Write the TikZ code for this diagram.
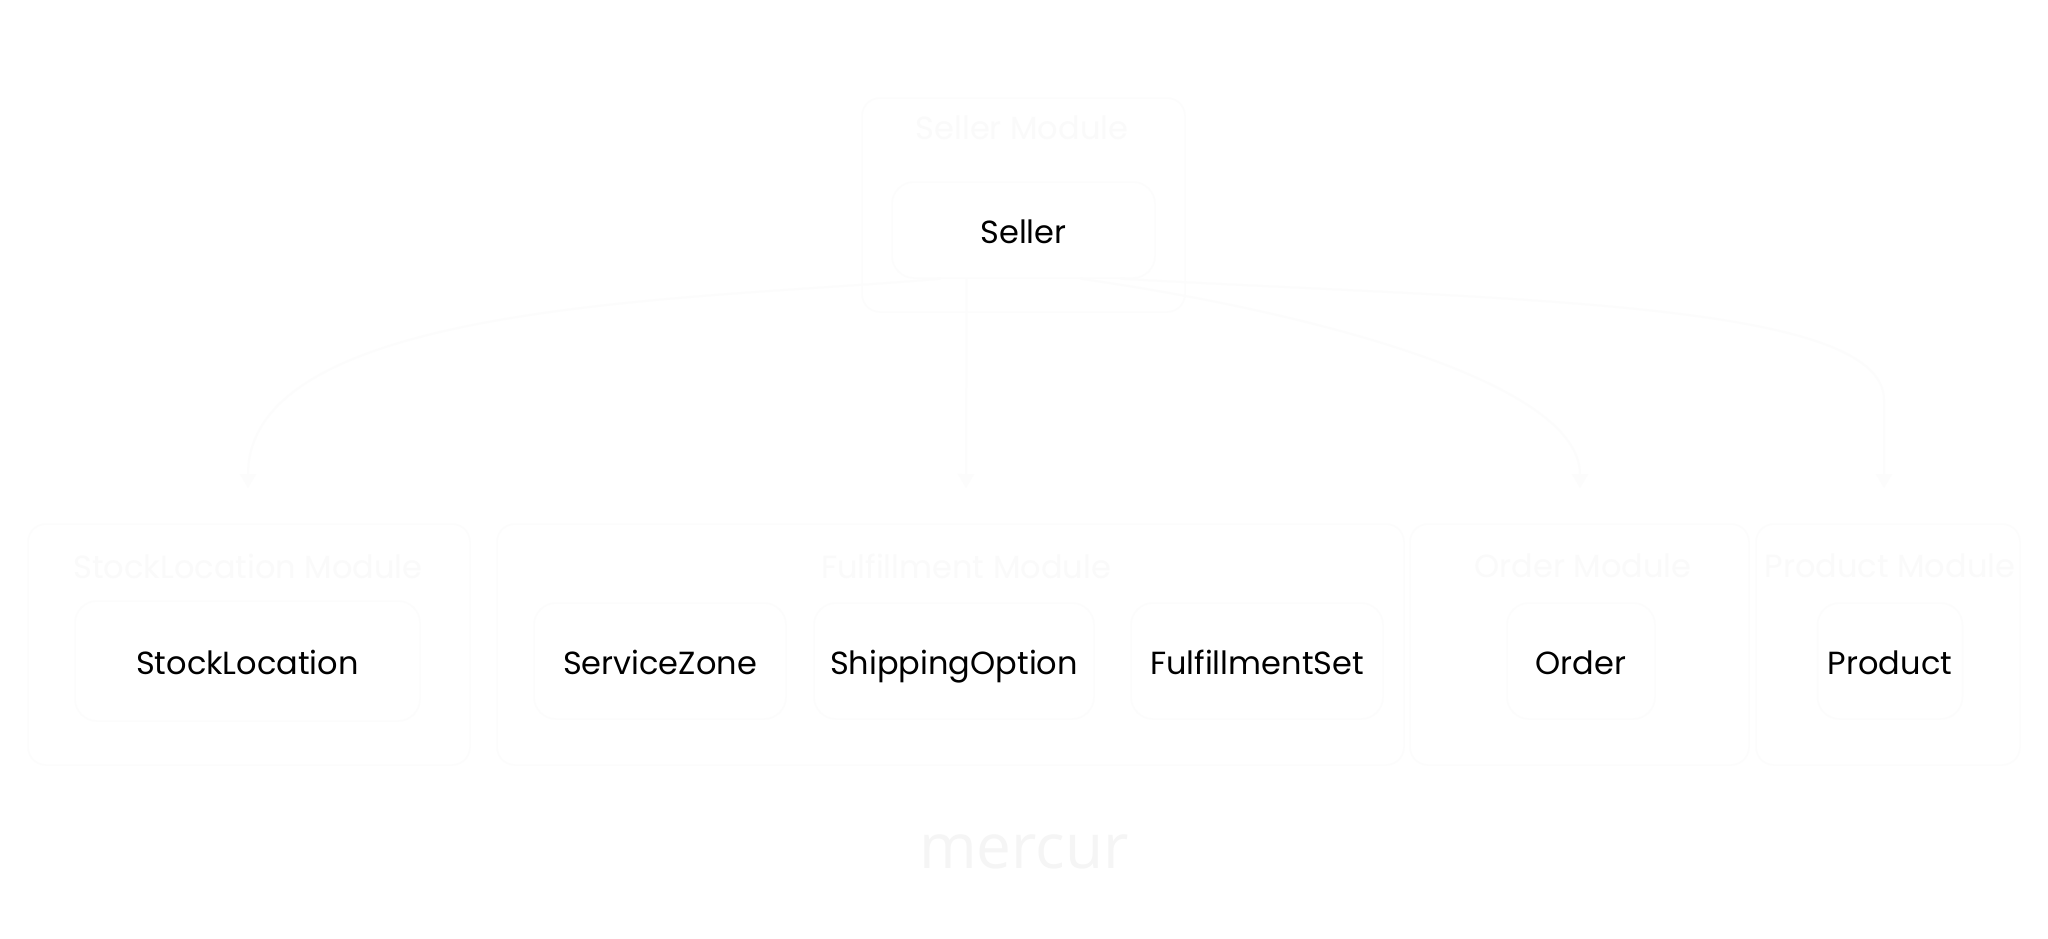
\documentclass[tikz,border=0pt]{standalone}
\usepackage{fontspec}
\setmainfont{Poppins}
\newfontfamily\wmfont{Open Sans}
\usetikzlibrary{arrows.meta}
\definecolor{faintline}{HTML}{FCFCFC}
\definecolor{faintbox}{HTML}{FCFCFC}
\definecolor{fainttext}{HTML}{FAFAFA}
\definecolor{wmcolor}{HTML}{F5F5F5}
\begin{document}
\begin{tikzpicture}[x=1pt,y=-1pt,
  cluster/.style={draw=faintbox, line width=1.5pt, rounded corners=18pt, fill=white, inner sep=0pt},
  entity/.style={draw=faintbox, line width=1.5pt, rounded corners=22pt, fill=white, inner sep=0pt, font=\fontsize{32}{38}\selectfont, text=black, text height=30pt, text depth=4pt},
  ctitle/.style={font=\fontsize{32}{38}\selectfont, text=fainttext, inner sep=0pt, anchor=base},
  link/.style={draw=faintline, line width=2pt, -{Triangle[length=14pt,width=16pt]}},
  watermark/.style={font=\wmfont\fontsize{62}{70}\selectfont, text=wmcolor, inner sep=0pt}
]
\useasboundingbox (0,0) rectangle (2048,938);
\fill[white] (0,0) rectangle (2048,938);

% clusters
\node[cluster, minimum width=323pt, minimum height=214pt] (sellermod) at (1023.5,205) {};
\node[cluster, minimum width=442pt, minimum height=241pt] (slmod) at (249,644.5) {};
\node[cluster, minimum width=907pt, minimum height=241pt] (ffmod) at (950.5,644.5) {};
\node[cluster, minimum width=339pt, minimum height=241pt] (ordmod) at (1579.5,644.5) {};
\node[cluster, minimum width=264pt, minimum height=241pt] (prodmod) at (1888,644.5) {};

% cluster titles
\node[ctitle] (sellertitle) at (1022,139) {Seller Module};
\node[ctitle] (sltitle) at (248,578) {StockLocation Module};
\node[ctitle] (fftitle) at (966,578) {Fulfillment Module};
\node[ctitle] (ordtitle) at (1583,577) {Order Module};
\node[ctitle] (prodtitle) at (1890,577) {Product Module};

% entities
\node[entity, minimum width=263pt, minimum height=96pt] (seller) at (1023.5,230) {Seller};
\node[entity, minimum width=345pt, minimum height=120pt] (stockloc) at (247.5,661) {StockLocation};
\node[entity, minimum width=252pt, minimum height=116pt] (servicezone) at (660,661) {ServiceZone};
\node[entity, minimum width=280pt, minimum height=116pt] (shipopt) at (954,661) {ShippingOption};
\node[entity, minimum width=252pt, minimum height=116pt] (fulfset) at (1257,661) {FulfillmentSet};
\node[entity, minimum width=148pt, minimum height=116pt] (order) at (1581,661) {Order};
\node[entity, minimum width=145pt, minimum height=116pt] (product) at (1890,661) {Product};

% edge end points
\coordinate (slend) at (248,488);
\coordinate (ffend) at (966,488);
\coordinate (ordend) at (1580,488);
\coordinate (prodend) at (1884,488);

\draw[link] ([xshift=-83pt]seller.south) .. controls (700,300) and (248,300) .. (slend);
\draw[link] ([xshift=-57pt]seller.south) -- (ffend);
\draw[link] ([xshift=57pt]seller.south) .. controls (1300,310) and (1580,380) .. (ordend);
\draw[link] ([xshift=97pt]seller.south) .. controls (1500,300) and (1884,300) .. (1884,400) -- (prodend);

% watermark
\node[watermark, anchor=base] (wm) at (1024,868) {mercur};
\end{tikzpicture}
\end{document}
